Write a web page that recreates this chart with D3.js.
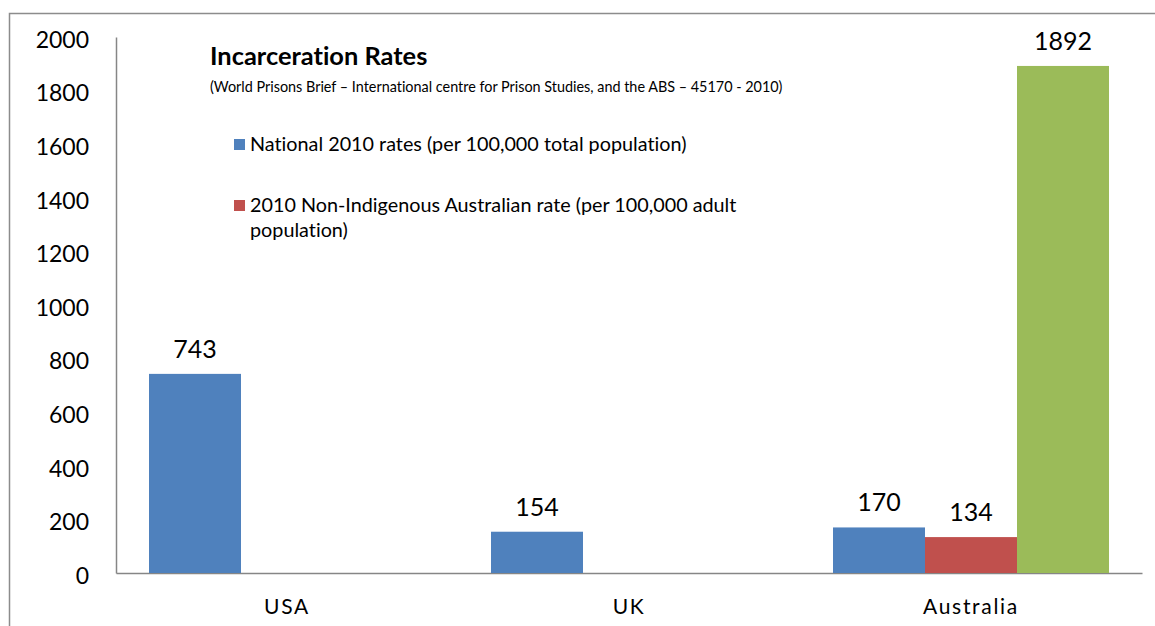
<!DOCTYPE html>
<html>
<head>
<meta charset="utf-8">
<script src="https://cdn.jsdelivr.net/npm/d3@7"></script>
<style>
  html, body { margin: 0; padding: 0; background: #fff; }
  svg { display: block; font-family: Lato, "Open Sans", sans-serif; font-variant-ligatures: none; }
  svg text { font-variant-ligatures: none; font-feature-settings: "liga" 0, "clig" 0; }
</style>
</head>
<body>
<svg id="chart" width="1155" height="626"></svg>
<script>
// Incarceration rates per 100,000 population
const categories = ["USA", "UK", "Australia"];
const seriesNames = [
  "National 2010 rates (per 100,000 total population)",
  "2010 Non-Indigenous Australian rate (per 100,000 adult population)",
  "2010 Indigenous Australian rate"
];
const nationalRates = [743, 154, 170];
const nonIndigenousRates = [null, null, 134];
const indigenousRates = [null, null, 1892];
const yTicks = [0, 200, 400, 600, 800, 1000, 1200, 1400, 1600, 1800, 2000];
const colors = ["#4F81BD", "#C0504D", "#9BBB59"];

const seriesValues = [nationalRates, nonIndigenousRates, indigenousRates];

const svg = d3.select("#chart");

// outer frame (runs off the right and bottom edges)
svg.append("path")
  .attr("d", "M9.5,640 V13.5 H1170")
  .attr("fill", "none")
  .attr("stroke", "#8c8c8c")
  .attr("stroke-width", 1.5);

const plot = { left: 116, right: 1142, top: 37, bottom: 573 };

const x0 = d3.scaleBand().domain(categories).range([plot.left, plot.right]);
const gap = x0.bandwidth() * 0.0965;
const x1 = d3.scaleBand().domain(d3.range(seriesNames.length))
  .range([gap, x0.bandwidth() - gap]);
const y = d3.scaleLinear().domain([0, 2000]).range([plot.bottom, plot.top]);

// y axis
const yAxis = svg.append("g")
  .attr("transform", `translate(${plot.left},0)`)
  .call(d3.axisLeft(y).tickValues(yTicks).tickFormat(d3.format("d")).tickSize(0).tickPadding(27));
yAxis.select(".domain").attr("stroke", "#868686").attr("stroke-width", 1.5);
yAxis.selectAll("text")
  .attr("font-family", "Lato, sans-serif")
  .attr("font-size", 23)
  .attr("fill", "#000")
  .attr("dy", "0.45em");

// x axis
const xAxis = svg.append("g")
  .attr("transform", `translate(0,${plot.bottom})`)
  .call(d3.axisBottom(x0).tickSize(0).tickPadding(26));
xAxis.select(".domain").attr("stroke", "#868686").attr("stroke-width", 1.5);
xAxis.selectAll("text")
  .attr("font-family", "Lato, sans-serif")
  .attr("font-size", 21)
  .attr("letter-spacing", "1.7px")
  .attr("fill", "#000");

// bars
const barData = [];
seriesValues.forEach((vals, s) => {
  vals.forEach((v, i) => {
    if (v != null) barData.push({ cat: categories[i], s, v });
  });
});

svg.append("g").selectAll("rect")
  .data(barData)
  .join("rect")
  .attr("x", d => x0(d.cat) + x1(d.s))
  .attr("y", d => y(d.v))
  .attr("width", x1.bandwidth())
  .attr("height", d => y(0) - y(d.v))
  .attr("fill", d => colors[d.s]);

// value labels
svg.append("g").selectAll("text")
  .data(barData)
  .join("text")
  .attr("x", d => x0(d.cat) + x1(d.s) + x1.bandwidth() / 2)
  .attr("y", d => y(d.v) - 16)
  .attr("text-anchor", "middle")
  .attr("font-size", 25)
  .attr("fill", "#000")
  .text(d => d.v);

// title
svg.append("text")
  .attr("x", 210).attr("y", 65)
  .attr("font-size", 25.4)
  .attr("font-weight", "bold")
  .attr("fill", "#000")
  .text("Incarceration Rates");

svg.append("text")
  .attr("x", 210).attr("y", 92)
  .attr("font-size", 14.4)
  .attr("fill", "#000")
  .text("(World Prisons Brief \u2013 International centre for Prison Studies, and the ABS \u2013 45170 - 2010)");

// legend (first two series)
const legendItems = [
  { s: 0, lines: ["National 2010 rates (per 100,000 total population)"], y: 144 },
  { s: 1, lines: ["2010 Non-Indigenous Australian rate (per 100,000 adult", "population)"], y: 205 }
];
const legend = svg.append("g");
legendItems.forEach(item => {
  legend.append("rect")
    .attr("x", 234).attr("y", item.y - 5)
    .attr("width", 11).attr("height", 11)
    .attr("fill", colors[item.s]);
  item.lines.forEach((line, k) => {
    legend.append("text")
      .attr("x", 250).attr("y", item.y + k * 25)
      .attr("dy", "0.36em")
      .attr("font-size", 19.8)
      .attr("fill", "#000")
      .text(line);
  });
});
</script>
</body>
</html>
